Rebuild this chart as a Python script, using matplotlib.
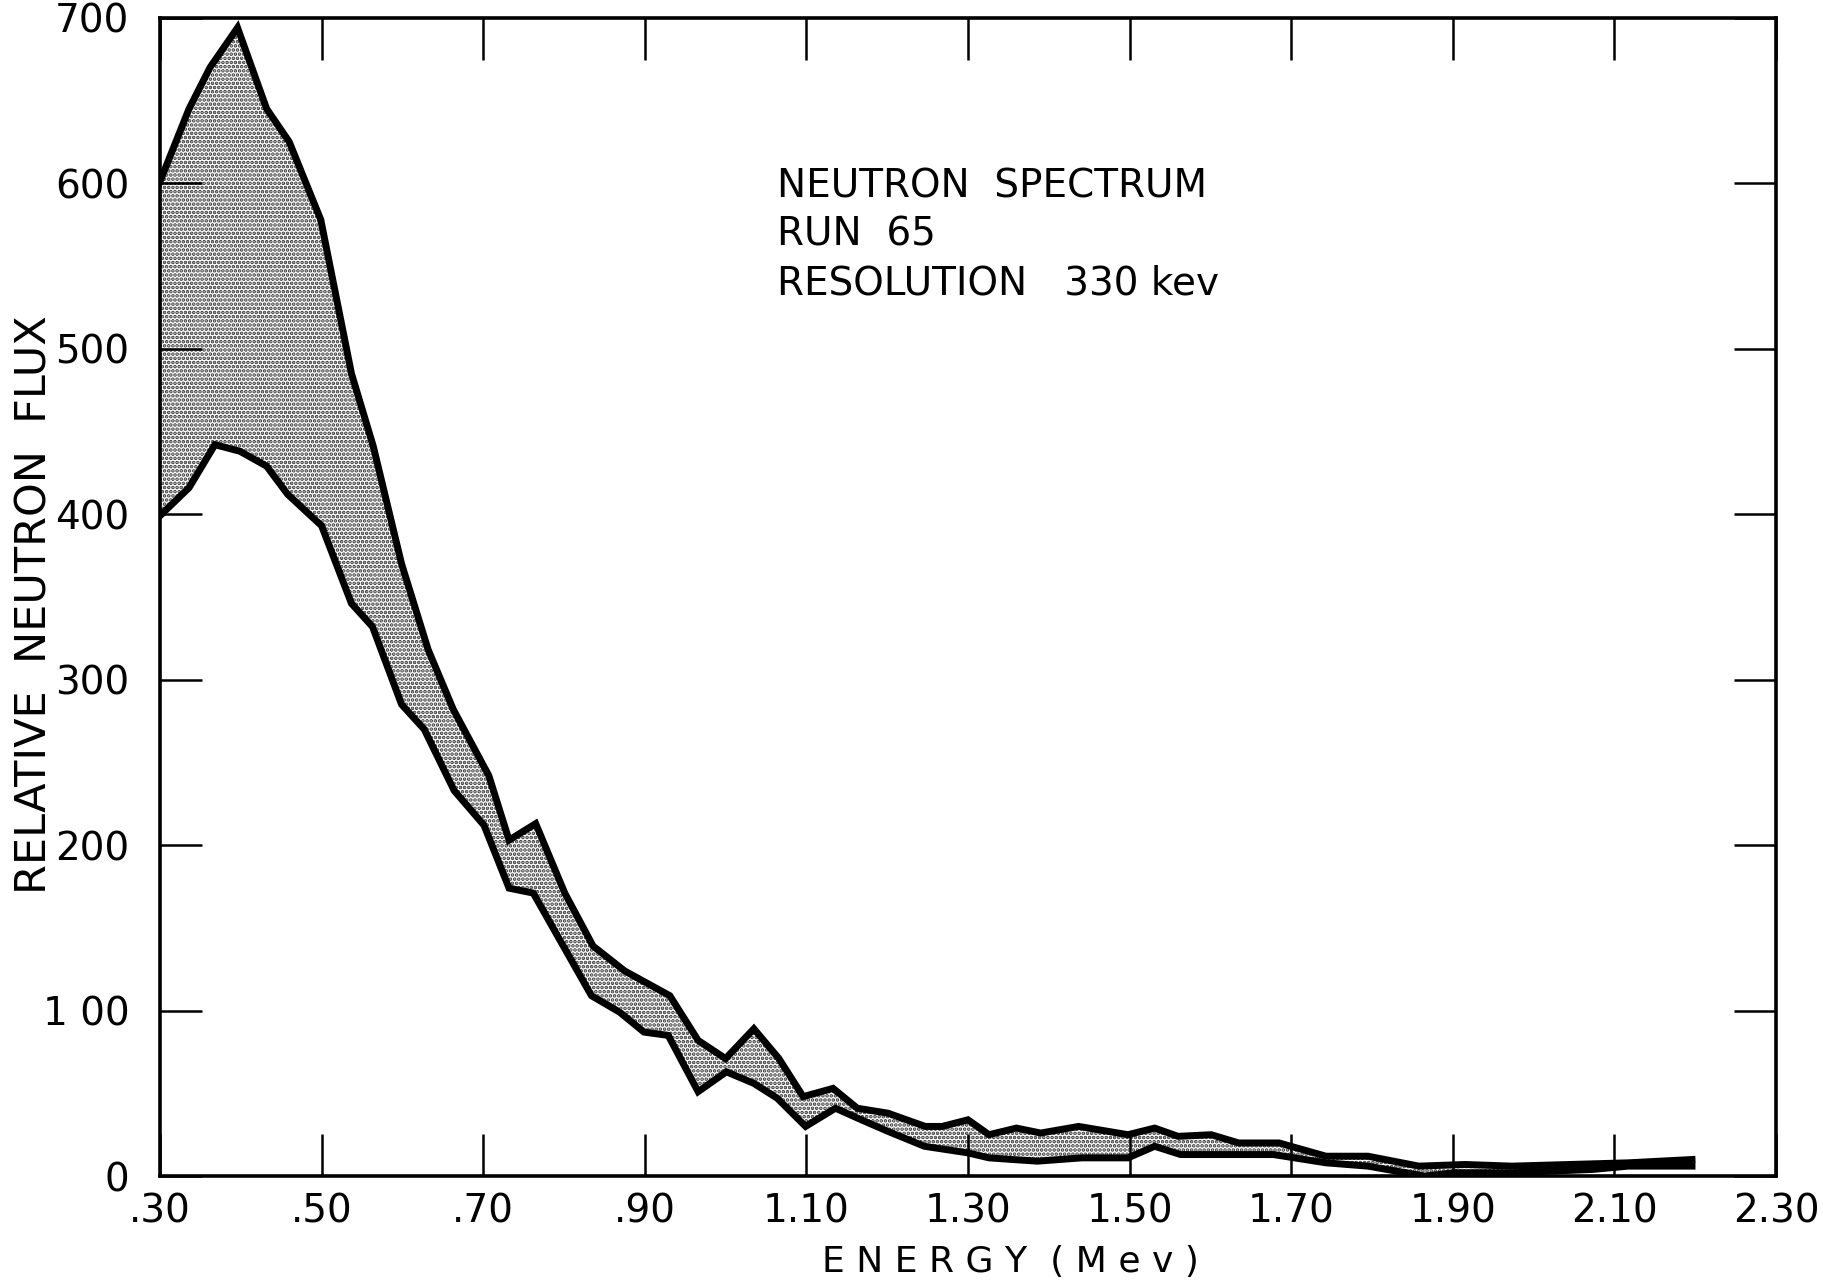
import numpy as np
import matplotlib
matplotlib.use("Agg")
import matplotlib.pyplot as plt

plt.rcParams["font.family"] = ["DejaVu Sans"]
plt.rcParams["hatch.linewidth"] = 1.8

# upper edge of the band (energy in Mev, relative flux)
upper_e = [0.300, 0.336, 0.362, 0.396, 0.432, 0.460, 0.499, 0.537, 0.564, 0.599,
           0.632, 0.663, 0.707, 0.732, 0.765, 0.801, 0.836, 0.875, 0.931, 0.966,
           1.000, 1.035, 1.066, 1.096, 1.133, 1.163, 1.201, 1.247, 1.268, 1.300,
           1.326, 1.360, 1.390, 1.437, 1.498, 1.531, 1.560, 1.601, 1.635, 1.685,
           1.743, 1.795, 1.858, 1.915, 1.973, 2.117, 2.196]
upper_f = [601, 645, 670, 694, 645, 625, 578, 485, 441, 370,
           318, 282, 242, 203, 213, 171, 139, 124, 109, 82,
           71, 89, 71, 48, 53, 41, 38, 30, 30, 34,
           25, 29, 26, 30, 25, 29, 24, 25, 20, 20,
           12, 12, 6, 7, 6, 8, 10]

# lower edge of the band
lower_e = [0.300, 0.336, 0.368, 0.399, 0.432, 0.458, 0.500, 0.537, 0.563, 0.599,
           0.627, 0.664, 0.701, 0.732, 0.762, 0.798, 0.834, 0.869, 0.899, 0.929,
           0.966, 1.001, 1.035, 1.064, 1.099, 1.136, 1.168, 1.201, 1.246, 1.300,
           1.326, 1.355, 1.386, 1.441, 1.498, 1.531, 1.563, 1.635, 1.678, 1.743,
           1.795, 1.865, 1.902, 1.973, 2.073, 2.117, 2.196]
lower_f = [399, 416, 442, 438, 429, 412, 393, 346, 332, 285,
           270, 233, 212, 174, 171, 140, 109, 99, 87, 85,
           51, 63, 56, 47, 30, 41, 34, 27, 18, 14,
           11, 10, 9, 11, 11, 18, 13, 13, 13, 8,
           6, 0, 2, 2, 4, 6, 6]

x_ticks = [0.30, 0.50, 0.70, 0.90, 1.10, 1.30, 1.50, 1.70, 1.90, 2.10, 2.30]
x_labels = [".30", ".50", ".70", ".90", "1.10", "1.30", "1.50", "1.70", "1.90", "2.10", "2.30"]
y_ticks = [0, 100, 200, 300, 400, 500, 600, 700]
y_labels = ["0", "1 00", "200", "300", "400", "500", "600", "700"]

fig = plt.figure(figsize=(18.24, 12.87), dpi=100)
ax = fig.add_axes([0.0877, 0.0862, 0.886, 0.9])

# stippled band between the two edges
band_x = np.concatenate([upper_e, lower_e[::-1]])
band_y = np.concatenate([upper_f, lower_f[::-1]])
ax.fill(band_x, band_y, facecolor="white", edgecolor="#333333", hatch="....", linewidth=0)
ax.plot(upper_e, upper_f, color="black", linewidth=5, solid_joinstyle="miter")
ax.plot(lower_e, lower_f, color="black", linewidth=5, solid_joinstyle="miter")

ax.set_xlim(0.30, 2.30)
ax.set_ylim(0, 700)
ax.set_xticks(x_ticks)
ax.set_xticklabels(x_labels)
ax.set_yticks(y_ticks)
ax.set_yticklabels(y_labels)
ax.tick_params(direction="in", length=30, width=1.8, top=True, right=True,
               labelsize=28)
ax.tick_params(axis="x", pad=12)
ax.tick_params(axis="y", pad=22)
for s in ax.spines.values():
    s.set_linewidth(2.6)

ax.set_xlabel("E N E R G Y  ( M e v )", fontsize=26, labelpad=10, x=0.526)
fig.text(0.019, 0.53, "RELATIVE  NEUTRON  FLUX", fontsize=31, rotation=90,
         ha="center", va="center")

ax.text(0.382, 0.871, "NEUTRON  SPECTRUM\nRUN  65\nRESOLUTION   330 kev",
        transform=ax.transAxes, fontsize=28, va="top", ha="left", linespacing=1.35)

fig.savefig("out.png", dpi=100)
